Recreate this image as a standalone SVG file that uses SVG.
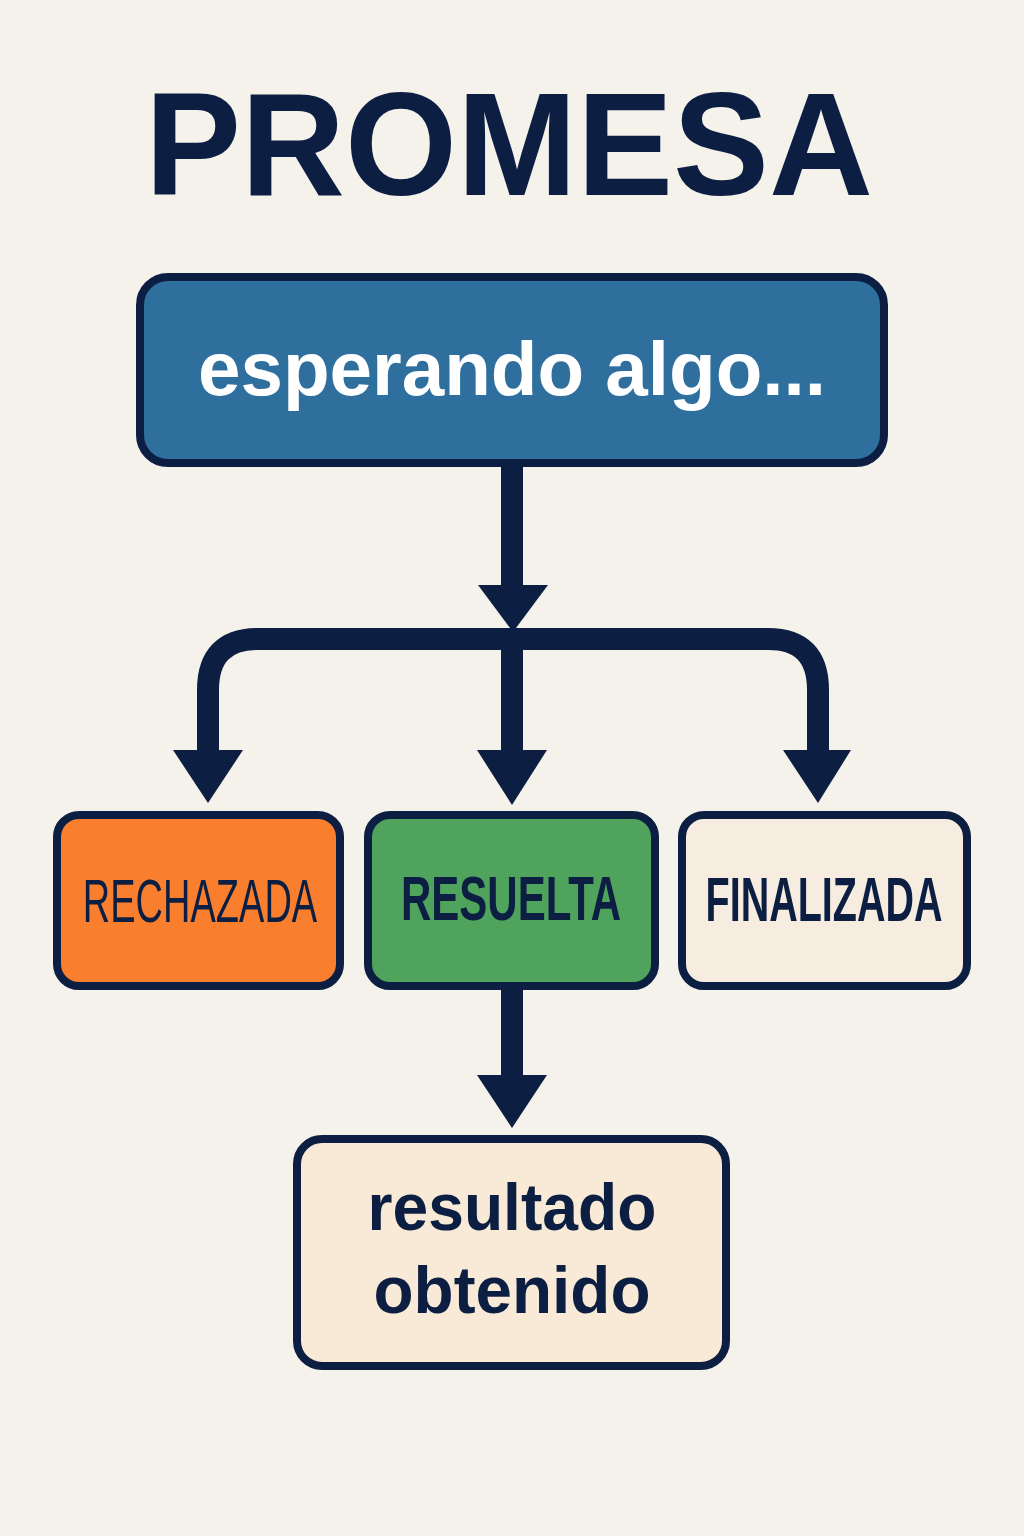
<svg xmlns="http://www.w3.org/2000/svg" width="1024" height="1536" viewBox="0 0 1024 1536">
<style>
.box{stroke:#0c1f42;stroke-width:8}
.ln{fill:none;stroke:#0c1f42;stroke-width:22;stroke-linejoin:round}
.head{fill:#0c1f42}
.lbl{font-family:"Liberation Sans","DejaVu Sans",sans-serif;fill:#0c1f42;text-anchor:middle}
</style>
<rect width="1024" height="1536" fill="#f5f1eb"/>
<text x="509" y="195" class="lbl" font-size="146" font-weight="bold" textLength="728" lengthAdjust="spacingAndGlyphs">PROMESA</text>
<g id="connectors">
<path class="ln" d="M512 465 V590"/>
<path class="head" d="M478 585 H548 L513 632 Z"/>
<path class="ln" d="M208 752 V690 Q208 639 258 639 H768 Q818 639 818 690 V752"/>
<path class="ln" d="M512 639 V752"/>
<path class="head" d="M173 750 H243 L208 803 Z"/>
<path class="head" d="M477 750 H547 L512 805 Z"/>
<path class="head" d="M783 750 H851 L818 803 Z"/>
<path class="ln" d="M512 988 V1078"/>
<path class="head" d="M477 1075 H547 L512 1128 Z"/>
</g>
<g id="esperando">
<rect class="box" x="140" y="277" width="744" height="186" rx="28" fill="#2e6f9e"/>
<text x="512" y="395" class="lbl" style="fill:#ffffff" font-size="76" font-weight="bold" textLength="628" lengthAdjust="spacingAndGlyphs">esperando algo...</text>
</g>
<g id="rechazada">
<rect class="box" x="57" y="815" width="283" height="171" rx="22" fill="#f97f2f"/>
<text transform="translate(200,922) scale(1,1.63)" x="0" y="0" class="lbl" font-size="38">RECHAZADA</text>
</g>
<g id="resuelta">
<rect class="box" x="368" y="815" width="287" height="171" rx="22" fill="#4fa35c"/>
<text transform="translate(511,920) scale(1,1.52)" x="0" y="0" class="lbl" font-size="42" font-weight="bold">RESUELTA</text>
</g>
<g id="finalizada">
<rect class="box" x="682" y="815" width="285" height="171" rx="22" fill="#f7ece0"/>
<text transform="translate(824,921) scale(1,1.6)" x="0" y="0" class="lbl" font-size="39.5" font-weight="bold">FINALIZADA</text>
</g>
<g id="resultado">
<rect class="box" x="297" y="1139" width="429" height="227" rx="25" fill="#f8ead6"/>
<text x="512" y="1230" class="lbl" font-size="66" font-weight="bold" textLength="289" lengthAdjust="spacingAndGlyphs">resultado</text>
<text x="512" y="1313" class="lbl" font-size="66" font-weight="bold" textLength="277" lengthAdjust="spacingAndGlyphs">obtenido</text>
</g>
</svg>
